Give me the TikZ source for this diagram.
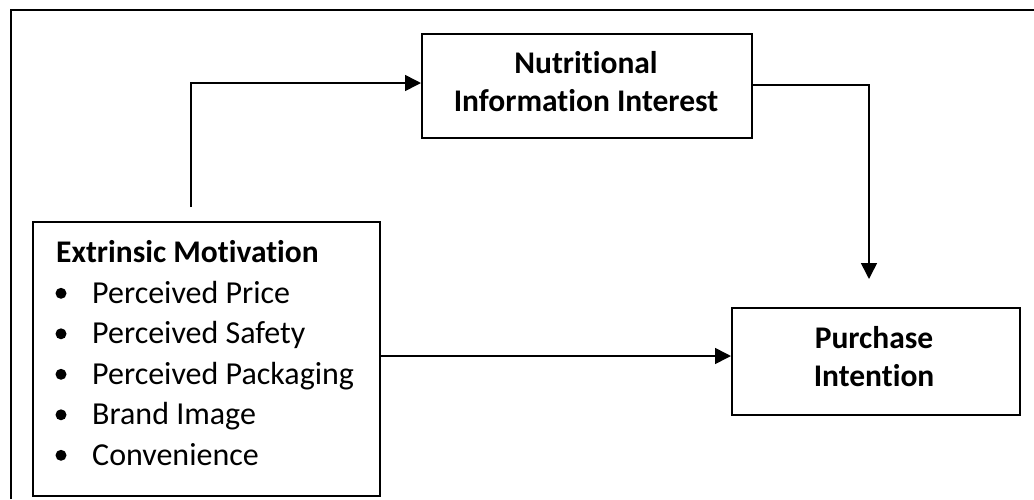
\documentclass[tikz,border=0pt]{standalone}
\usepackage{fontspec}
\setmainfont{Carlito}[Ligatures=NoCommon]
\usetikzlibrary{arrows.meta}
\tikzset{
  box/.style={draw=black, line width=1.6pt, inner sep=0pt, anchor=north west},
  txt/.style={inner sep=0pt, anchor=base, font=\fontsize{31.5}{36}\selectfont\bfseries},
  item/.style={inner sep=0pt, anchor=base west, font=\fontsize{32}{36}\selectfont},
  dot/.style={circle, fill=black, inner sep=0pt, minimum size=11pt},
  conn/.style={line width=1.6pt, -{Triangle[length=16pt,width=16pt]}},
  frame/.style={line width=1.6pt}
}
\begin{document}
\begin{tikzpicture}[x=1pt,y=-1pt]
\useasboundingbox (0,0) rectangle (1034,499);
% frame
\coordinate (f1) at (11,499);
\coordinate (f2) at (11,10);
\coordinate (f3) at (1034,10);
\draw[frame] (f1) -- (f2) -- (f3);
% boxes
\node[box, minimum width=330pt, minimum height=104pt] (nii) at (421,33) {};
\node[box, minimum width=347pt, minimum height=274pt] (em) at (32,221) {};
\node[box, minimum width=288pt, minimum height=107pt] (pi) at (731,307) {};
% texts
\node[txt] (nii1) at (586,73.5) {Nutritional};
\node[txt] (nii2) at (586,111.7) {Information Interest};
\node[txt] (pi1) at (874,348.3) {Purchase};
\node[txt] (pi2) at (874,386.7) {Intention};
\node[txt, anchor=base west] (emh) at (56,262) {Extrinsic Motivation};
\foreach \i/\t in {0/Perceived Price,1/Perceived Safety,2/Perceived Packaging,3/Brand Image,4/Convenience}{
  \node[dot] (b\i) at (61,293.3+40.5*\i) {};
  \node[item] (it\i) at (92,303.3+40.5*\i) {\t};
}
% connectors
\coordinate (s1) at (191,207);
\coordinate (e2) at (869,279);
\coordinate (s3) at (379,356);
\draw[conn] (s1) |- (nii.west |- 0,83);
\draw[conn] (nii.east |- 0,85) -| (e2);
\draw[conn] (s3) -- (pi.west |- s3);
\end{tikzpicture}
\end{document}
